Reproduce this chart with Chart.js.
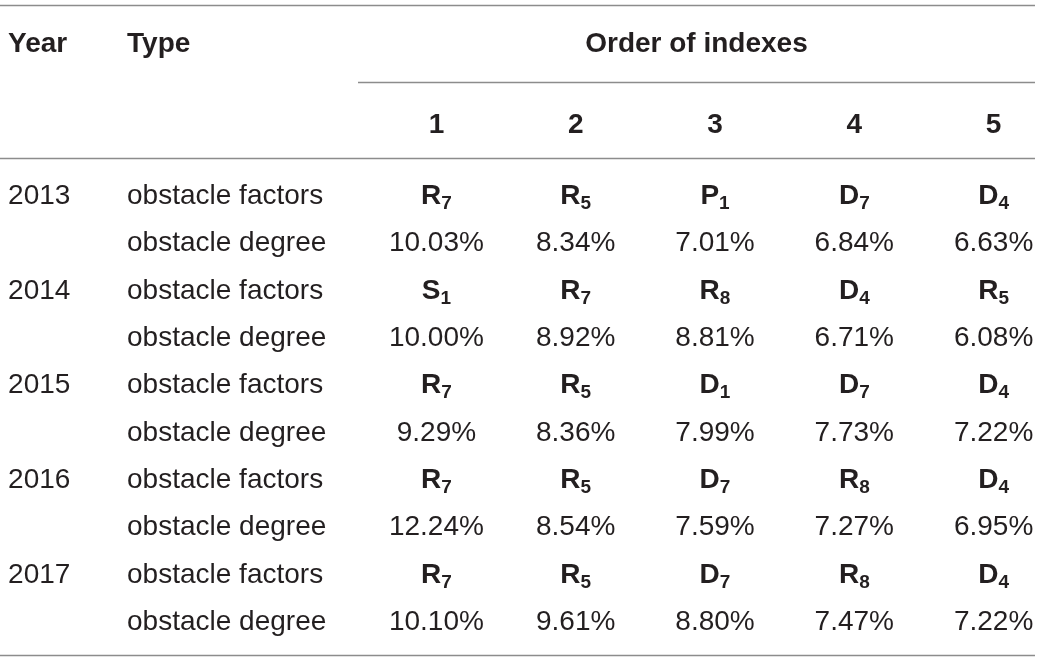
<!DOCTYPE html>
<html>
<head>
<meta charset="utf-8">
<script src="https://cdn.jsdelivr.net/npm/chart.js@4"></script>
<style>
  html, body { margin: 0; padding: 0; background: #fff; }
  #wrap { width: 1040px; height: 661px; position: relative; }
</style>
</head>
<body>
<div id="wrap"><canvas id="chart-1"></canvas></div>
<script>
// table content
const years = ["2013", "2014", "2015", "2016", "2017"];
const types = ["obstacle factors", "obstacle degree"];
const orders = ["1", "2", "3", "4", "5"];
const factors = [
  ["R7", "R5", "P1", "D7", "D4"],
  ["S1", "R7", "R8", "D4", "R5"],
  ["R7", "R5", "D1", "D7", "D4"],
  ["R7", "R5", "D7", "R8", "D4"],
  ["R7", "R5", "D7", "R8", "D4"],
];
const degrees = [
  [10.03, 8.34, 7.01, 6.84, 6.63],
  [10.00, 8.92, 8.81, 6.71, 6.08],
  [9.29, 8.36, 7.99, 7.73, 7.22],
  [12.24, 8.54, 7.59, 7.27, 6.95],
  [10.10, 9.61, 8.80, 7.47, 7.22],
];

// layout, in column / row units of the two scales
const X_MIN = -2.133, X_MAX = 5.333;
const YEAR_X = -2.075, TYPE_X = -1.221;
const HEAD_Y = -3.21, ORDER_Y = -1.5;
const RULE_LEFT = X_MIN, RULE_RIGHT = 5.297, SPAN_LEFT = 0.437;
const RULES = [[-3.983, RULE_LEFT], [-2.367, SPAN_LEFT], [-0.761, RULE_LEFT], [9.74, RULE_LEFT]];
const FONT = '"Liberation Sans", Arial, sans-serif';
const INK = "#231f20";

const factorPts = [], degreePts = [];
years.forEach((yr, i) => {
  orders.forEach((o, j) => {
    factorPts.push({ x: j + 1, y: i * 2, label: factors[i][j] });
    degreePts.push({ x: j + 1, y: i * 2 + 1, label: degrees[i][j].toFixed(2) + "%" });
  });
});

const tablePlugin = {
  id: "table",
  beforeDatasetsDraw(chart) {
    const { ctx, scales: { x, y } } = chart;
    ctx.save();
    ctx.strokeStyle = "#8c8c8c";
    ctx.lineWidth = 1.5;
    RULES.forEach(([row, left]) => {
      const py = Math.round(y.getPixelForValue(row)) + 0.5;
      ctx.beginPath();
      ctx.moveTo(x.getPixelForValue(left), py);
      ctx.lineTo(x.getPixelForValue(RULE_RIGHT), py);
      ctx.stroke();
    });
    ctx.restore();
  },
  afterDatasetsDraw(chart) {
    const { ctx, scales: { x, y } } = chart;
    const text = (s, px, py, bold, align) => {
      ctx.font = (bold ? "bold " : "") + "28px " + FONT;
      ctx.textAlign = align || "left";
      ctx.fillText(s, px, py + 10);
    };
    ctx.save();
    ctx.fillStyle = INK;
    ctx.textBaseline = "alphabetic";

    // header
    const hy = y.getPixelForValue(HEAD_Y);
    text("Year", x.getPixelForValue(YEAR_X), hy, true);
    text("Type", x.getPixelForValue(TYPE_X), hy, true);
    text("Order of indexes", (x.getPixelForValue(SPAN_LEFT) + x.getPixelForValue(RULE_RIGHT)) / 2, hy, true, "center");
    orders.forEach((o, j) => text(o, x.getPixelForValue(j + 1), y.getPixelForValue(ORDER_Y), true, "center"));

    // row labels
    years.forEach((yr, i) => {
      text(yr, x.getPixelForValue(YEAR_X), y.getPixelForValue(i * 2), false);
      types.forEach((t, k) => text(t, x.getPixelForValue(TYPE_X), y.getPixelForValue(i * 2 + k), false));
    });

    // factor cells: letter with subscript
    chart.getDatasetMeta(0).data.forEach((el, i) => {
      const s = factorPts[i].label;
      const main = s[0], sub = s.slice(1);
      ctx.font = "bold 28px " + FONT;
      const w1 = ctx.measureText(main).width;
      ctx.font = "bold 19px " + FONT;
      const w2 = ctx.measureText(sub).width;
      const left = el.x - (w1 + w2) / 2;
      ctx.textAlign = "left";
      ctx.font = "bold 28px " + FONT;
      ctx.fillText(main, left, el.y + 10);
      ctx.font = "bold 19px " + FONT;
      ctx.fillText(sub, left + w1, el.y + 15);
    });

    // degree cells
    chart.getDatasetMeta(1).data.forEach((el, i) => {
      text(degreePts[i].label, el.x, el.y, false, "center");
    });
    ctx.restore();
  },
};

const ctx1 = document.getElementById("chart-1").getContext("2d");
const myChart1 = new Chart(ctx1, {
  type: "scatter",
  data: {
    datasets: [
      { label: "obstacle factors", data: factorPts, pointRadius: 0 },
      { label: "obstacle degree", data: degreePts, pointRadius: 0 },
    ],
  },
  options: {
    responsive: true,
    maintainAspectRatio: false,
    animation: false,
    layout: { padding: 0 },
    plugins: { legend: { display: false }, tooltip: { enabled: false } },
    scales: {
      x: { type: "linear", display: false, min: X_MIN, max: X_MAX },
      y: { type: "linear", display: false, reverse: true, min: -4.099, max: 9.867 },
    },
  },
  plugins: [tablePlugin],
});
</script>
</body>
</html>
